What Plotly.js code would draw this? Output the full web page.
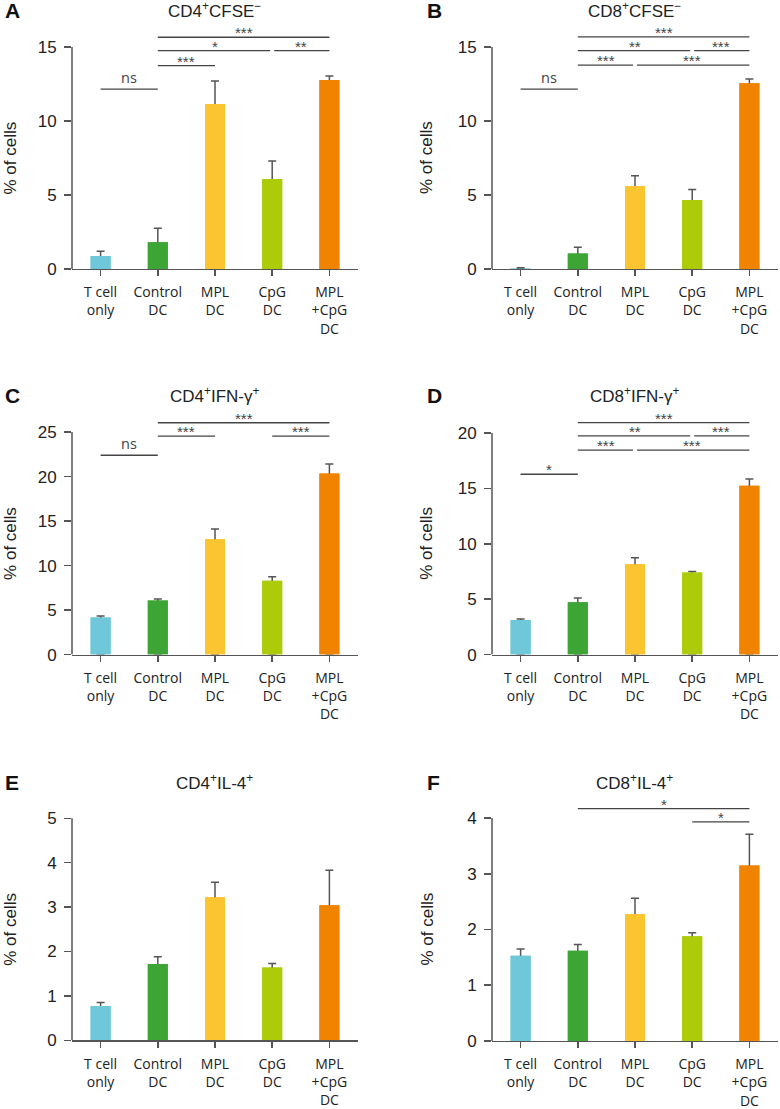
<!DOCTYPE html>
<html>
<head>
<meta charset="utf-8">
<script src="https://cdn.plot.ly/plotly-3.0.1.min.js"></script>
<style>html,body{margin:0;padding:0;background:#fff;}#chart{width:780px;height:1109px;}</style>
</head>
<body>
<div id="chart"></div>
<script>
// ---------- data ----------
const categories = ['T cell<br>only', 'Control<br>DC', 'MPL<br>DC', 'CpG<br>DC', 'MPL<br>+CpG<br>DC'];
const barColors = ['#6EC8DA', '#3DA536', '#FBC531', '#AECB0A', '#F08300'];

const cd4CfseMean = [0.88, 1.8, 11.15, 6.08, 12.77];
const cd4CfseSem  = [0.32, 0.95, 1.55, 1.22, 0.27];
const cd8CfseMean = [0.03, 1.04, 5.6, 4.66, 12.55];
const cd8CfseSem  = [0.05, 0.43, 0.7, 0.72, 0.29];
const cd4IfnMean  = [4.18, 6.07, 12.96, 8.29, 20.34];
const cd4IfnSem   = [0.16, 0.19, 1.14, 0.46, 1.08];
const cd8IfnMean  = [3.13, 4.73, 8.16, 7.4, 15.25];
const cd8IfnSem   = [0.09, 0.39, 0.59, 0.09, 0.61];
const cd4Il4Mean  = [0.77, 1.72, 3.22, 1.64, 3.04];
const cd4Il4Sem   = [0.08, 0.16, 0.34, 0.09, 0.79];
const cd8Il4Mean  = [1.53, 1.62, 2.28, 1.88, 3.15];
const cd8Il4Sem   = [0.12, 0.11, 0.28, 0.06, 0.56];

// significance brackets: [from category, to category, level, label]
const cd4CfseSig = [[0,1,12.16,'ns'],[1,2,13.74,'***'],[1,3,14.75,'*'],[3,4,14.75,'**'],[1,4,15.66,'***']];
const cd8CfseSig = [[0,1,12.16,'ns'],[1,2,13.78,'***'],[2,4,13.78,'***'],[1,3,14.75,'**'],[3,4,14.75,'***'],[1,4,15.68,'***']];
const cd4IfnSig  = [[0,1,22.4,'ns'],[1,2,24.55,'***'],[3,4,24.55,'***'],[1,4,26.05,'***']];
const cd8IfnSig  = [[0,1,16.28,'*'],[1,2,18.45,'***'],[2,4,18.45,'***'],[1,3,19.74,'**'],[3,4,19.74,'***'],[1,4,20.94,'***']];
const cd4Il4Sig  = [];
const cd8Il4Sig  = [[1,4,4.17,'*'],[3,4,3.93,'*']];

const panelTitles = ['CD4<sup>+</sup>CFSE<sup>−</sup>', 'CD8<sup>+</sup>CFSE<sup>−</sup>',
  'CD4<sup>+</sup>IFN-γ<sup>+</sup>', 'CD8<sup>+</sup>IFN-γ<sup>+</sup>',
  'CD4<sup>+</sup>IL-4<sup>+</sup>', 'CD8<sup>+</sup>IL-4<sup>+</sup>'];
const panelLetters = ['A', 'B', 'C', 'D', 'E', 'F'];
const yTickVals = [[0,5,10,15],[0,5,10,15],[0,5,10,15,20,25],[0,5,10,15,20],[0,1,2,3,4,5],[0,1,2,3,4]];
const yAxisLabel = '% of cells';

// ---------- layout geometry ----------
const means = [cd4CfseMean, cd8CfseMean, cd4IfnMean, cd8IfnMean, cd4Il4Mean, cd8Il4Mean];
const sems  = [cd4CfseSem, cd8CfseSem, cd4IfnSem, cd8IfnSem, cd4Il4Sem, cd8Il4Sem];
const sigs  = [cd4CfseSig, cd8CfseSig, cd4IfnSig, cd8IfnSig, cd4Il4Sig, cd8Il4Sig];
const rangeMax = [16.3, 16.3, 27, 21.7, 5.05, 4.4];
const xDomains = [[0.09231,0.45897],[0.63077,0.99744]];
const yDomains = [[0.75744,0.97497],[0.75744,0.97497],[0.40974,0.62642],[0.40974,0.62651],[0.06195,0.26411],[0.06132,0.28250]];
const titleY = [0.99098, 0.99098, 0.64382, 0.64382, 0.29486, 0.29486];
const titleX = [0.27564, 0.81410];
const letterX = [0.004, 0.5449];
const yLabX = [0.0135, 0.5475];

const W = 780, H = 1109;
const idx = categories.map((c, i) => i);
const data = [];
const shapes = [];
const annotations = [];
const layout = {
  width: W, height: H, margin: {l:0, r:0, t:0, b:0},
  paper_bgcolor: '#fff', plot_bgcolor: 'rgba(0,0,0,0)',
  showlegend: false, barmode: 'overlay',
  font: {family: 'Liberation Sans, Arial, sans-serif', color: '#222'}
};

for (let p = 0; p < 6; p++) {
  const n = p + 1;
  const xid = n === 1 ? 'x' : 'x' + n;
  const yid = n === 1 ? 'y' : 'y' + n;
  const col = p % 2;
  // bar with error bar reaching down to zero, then the same bar on top to hide the stem
  data.push({
    type: 'bar', x: idx, y: means[p], width: 0.35, xaxis: xid, yaxis: yid,
    marker: {color: barColors, line: {width: 0}}, hoverinfo: 'skip',
    error_y: {type: 'data', symmetric: false, array: sems[p], arrayminus: means[p],
              color: '#555', thickness: 1.5, width: 4}
  });
  data.push({
    type: 'bar', x: idx, y: means[p], width: 0.35, xaxis: xid, yaxis: yid,
    marker: {color: barColors, line: {width: 0}}, hoverinfo: 'skip'
  });

  layout['xaxis' + (n === 1 ? '' : n)] = {
    domain: xDomains[col], anchor: yid, range: [-0.5, 4.5],
    tickmode: 'array', tickvals: idx, ticktext: categories,
    showline: true, linecolor: '#555', linewidth: 1.5,
    ticks: 'outside', ticklen: 6, tickwidth: 1.5, tickcolor: '#555',
    tickfont: {family: 'Open Sans, sans-serif', size: 14, color: '#222'},
    ticklabelstandoff: 4,
    showgrid: false, zeroline: false, fixedrange: true
  };
  const ticks = yTickVals[p];
  layout['yaxis' + (n === 1 ? '' : n)] = {
    domain: yDomains[p], anchor: xid, range: [0, rangeMax[p]],
    tickmode: 'array', tickvals: ticks,
    showline: false, ticks: 'outside', ticklen: 7, tickwidth: 1.5, tickcolor: '#555',
    tickfont: {family: 'Liberation Sans, Arial, sans-serif', size: 17, color: '#222'},
    ticklabelstandoff: 4,
    showgrid: false, zeroline: false, fixedrange: true
  };
  // y-axis line up to the top tick
  shapes.push({type: 'line', xref: xid + ' domain', yref: yid, x0: 0, x1: 0,
    y0: 0, y1: ticks[ticks.length - 1], line: {color: '#555', width: 1.5}});

  // significance brackets
  const s = sigs[p];
  s.forEach((b) => {
    let x0 = b[0], x1 = b[1];
    const gap = 0.035;
    if (s.some(o => o !== b && o[2] === b[2] && o[0] === b[1])) x1 -= gap;
    if (s.some(o => o !== b && o[2] === b[2] && o[1] === b[0])) x0 += gap;
    shapes.push({type: 'line', xref: xid, yref: yid, x0: x0, x1: x1, y0: b[2], y1: b[2],
      line: {color: '#444', width: 1.3}});
    const isNs = b[3] === 'ns';
    annotations.push({xref: xid, yref: yid, x: (b[0] + b[1]) / 2, y: b[2], text: b[3],
      showarrow: false, xanchor: 'center', yanchor: 'bottom', yshift: isNs ? 0 : -6,
      font: {family: isNs ? 'Open Sans, sans-serif' : 'Liberation Sans, Arial, sans-serif',
             size: isNs ? 14.5 : 15, color: '#444'}});
  });

  // panel title
  annotations.push({xref: 'paper', yref: 'paper', x: titleX[col], y: titleY[p], text: panelTitles[p],
    showarrow: false, xanchor: 'center', yanchor: 'middle',
    font: {family: 'Liberation Sans, Arial, sans-serif', size: 17, color: '#222'}});
  // panel letter
  annotations.push({xref: 'paper', yref: 'paper', x: letterX[col], y: titleY[p], text: '<b>' + panelLetters[p] + '</b>',
    showarrow: false, xanchor: 'left', yanchor: 'middle',
    font: {family: 'Liberation Sans, Arial, sans-serif', size: 21, color: '#111'}});
  // y-axis label
  const yd = yDomains[p];
  const ymid = yd[0] + (yd[1] - yd[0]) * (ticks[ticks.length - 1] / rangeMax[p]) / 2;
  annotations.push({xref: 'paper', yref: 'paper', x: yLabX[col], y: ymid, text: yAxisLabel,
    showarrow: false, xanchor: 'center', yanchor: 'middle', textangle: -90,
    font: {family: 'Liberation Sans, Arial, sans-serif', size: 17, color: '#222'}});
}
layout.shapes = shapes;
layout.annotations = annotations;

Plotly.newPlot('chart', data, layout, {staticPlot: true, displayModeBar: false});
</script>
</body>
</html>
